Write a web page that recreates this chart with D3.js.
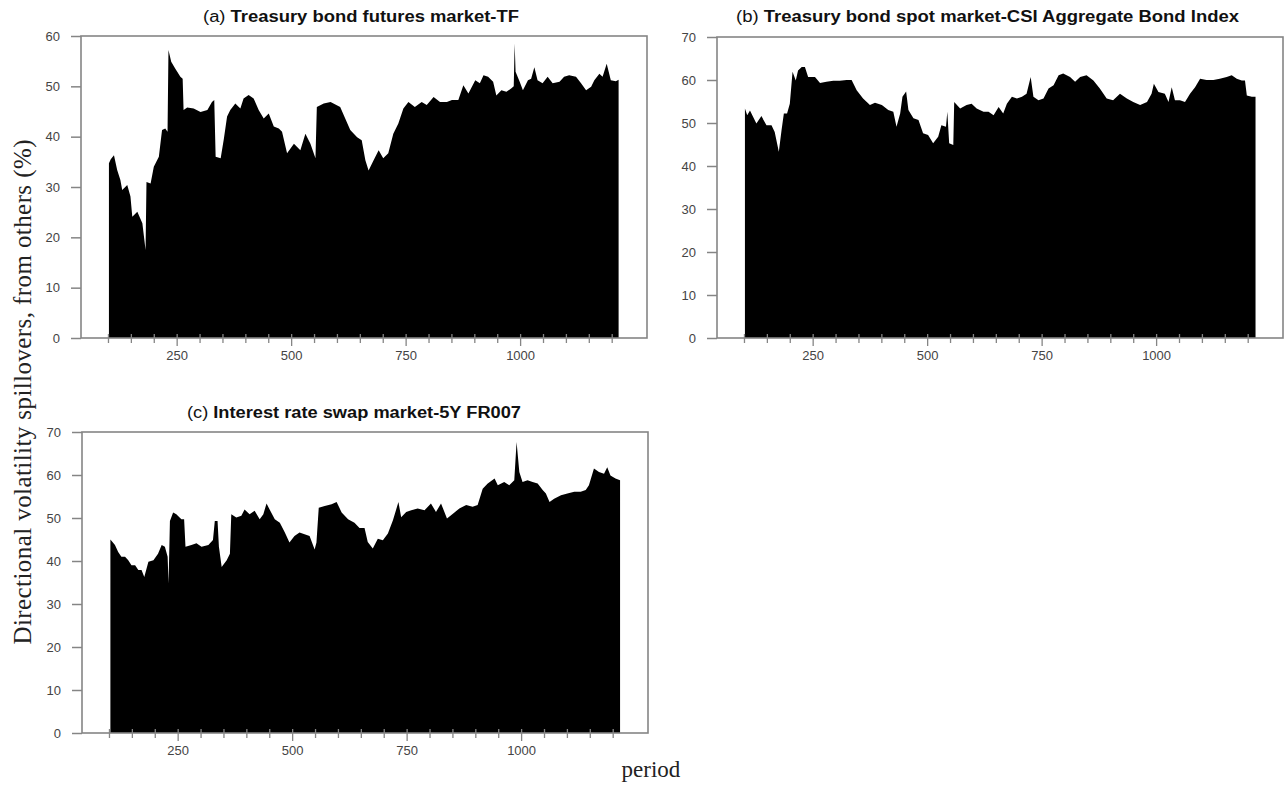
<!DOCTYPE html>
<html><head><meta charset="utf-8">
<script src="https://cdn.jsdelivr.net/npm/d3@7"></script>
<style>body{margin:0;background:#fff}svg{display:block}</style>
</head><body>
<svg id="chart" width="1284" height="788"></svg>
<script>
// ---------- data ----------
const periodTicks = d3.range(100, 1201, 50);
const periodLabels = [250, 500, 750, 1000];
const ticksA = [0, 10, 20, 30, 40, 50, 60];
const ticksBC = [0, 10, 20, 30, 40, 50, 60, 70];

const titleA = ["(a) ", "Treasury bond futures market-TF"];
const titleB = ["(b) ", "Treasury bond spot market-CSI Aggregate Bond Index"];
const titleC = ["(c) ", "Interest rate swap market-5Y FR007"];
const yLabel = "Directional volatility spillovers, from others (%)";
const xLabel = "period";

const aPeriods = [101,105,112,119,126,130,141,148,152,163,174,181,183,192,199,210,217,224,229,231,237,246,257,262,264,272,286,301,316,326,331,334,345,352,359,366,377,388,395,406,417,428,439,450,461,472,479,490,505,519,530,541,552,555,570,585,606,617,628,643,653,661,668,679,690,700,711,722,733,744,755,769,784,795,810,824,839,850,864,875,886,901,911,919,929,940,947,958,969,980,985,987,989,998,1005,1016,1023,1030,1037,1048,1059,1070,1085,1095,1106,1121,1132,1143,1154,1161,1172,1179,1188,1197,1208,1214];
const aValues = [34.7,35.5,36.3,33.4,31.4,29.4,30.4,28.1,24.1,25.1,22.8,17.5,31.0,30.7,34.0,36.0,41.3,41.6,41.0,57.2,54.9,53.5,51.9,51.5,45.3,45.8,45.6,44.9,45.3,46.9,47.3,36.0,35.7,39.6,44.0,45.3,46.6,45.6,47.6,48.3,47.6,45.3,43.6,44.6,42.0,41.6,41.0,36.7,38.6,37.3,40.6,38.6,35.7,45.9,46.6,46.9,45.9,43.6,41.3,39.9,39.3,35.3,33.3,35.3,37.3,35.7,36.7,40.6,42.6,45.6,46.9,45.9,46.9,46.3,47.9,46.9,46.9,47.3,47.3,50.2,48.6,51.2,50.6,52.2,51.9,50.9,48.2,49.2,48.9,49.6,50.0,58.5,52.9,50.9,49.2,51.2,51.5,53.8,51.2,50.6,51.9,50.6,50.9,51.9,52.2,51.9,50.6,49.2,49.9,51.2,52.5,51.9,54.5,51.2,51.0,51.3];

const bPeriods = [101,106,112,119,126,137,148,159,166,175,181,186,193,199,205,212,217,225,232,239,254,265,279,294,308,323,334,345,359,374,385,400,414,425,432,440,445,453,458,469,480,490,501,512,523,530,540,543,547,556,558,571,585,596,607,622,633,644,655,665,673,684,695,706,716,725,731,742,753,764,775,786,796,811,822,833,847,862,876,891,905,920,935,949,964,979,989,994,1004,1018,1026,1033,1040,1051,1062,1073,1084,1095,1109,1124,1138,1153,1164,1175,1186,1193,1197,1208,1216];
const bValues = [53.4,51.8,52.9,51.4,49.9,51.6,49.5,49.5,47.9,43.3,48.4,52.2,52.2,54.5,61.9,59.9,62.2,63.0,63.0,60.7,60.7,59.3,59.6,59.8,59.8,60.0,60.0,57.6,55.7,54.2,54.7,54.2,53.0,52.6,49.1,52.2,56.1,57.3,53.0,51.1,50.7,47.6,47.2,45.3,46.8,49.5,49.1,52.6,45.3,44.9,54.9,53.4,54.2,54.5,53.4,52.6,52.6,51.8,53.7,52.2,54.5,56.1,55.7,56.1,56.8,60.7,56.1,55.3,55.7,58.0,58.8,61.1,61.5,60.7,59.6,60.7,61.1,59.9,58.0,55.7,55.3,56.8,55.7,54.9,54.2,54.9,56.8,59.1,57.2,56.8,54.9,58.3,55.3,55.3,54.9,56.8,58.3,60.3,60.0,60.0,60.3,60.7,61.1,60.3,59.9,59.9,56.4,56.1,56.1];

const cPeriods = [102,112,119,126,134,141,148,156,163,170,176,185,196,206,214,221,227,229,232,239,246,257,263,266,279,290,301,316,326,330,336,339,345,356,363,366,377,388,395,406,417,428,436,443,450,461,472,483,493,504,515,526,537,548,552,557,570,585,596,607,621,635,646,657,664,675,686,697,708,719,731,737,748,759,773,788,802,813,824,837,850,864,879,893,904,915,926,941,948,962,973,984,989,995,1002,1013,1024,1035,1046,1053,1061,1071,1086,1100,1115,1129,1140,1147,1158,1169,1180,1187,1194,1205,1215];
const cValues = [45.0,43.7,42.1,41.0,41.0,40.2,39.0,39.0,37.9,37.9,36.3,39.8,40.2,41.7,43.7,43.3,41.0,34.8,49.3,51.3,50.9,49.7,49.7,43.3,43.7,44.1,43.3,43.7,44.9,49.3,49.3,43.3,38.6,40.2,41.7,50.9,50.1,50.5,52.0,50.9,51.7,49.7,50.9,53.4,51.9,49.7,48.9,46.6,44.3,45.8,46.6,46.2,45.8,42.7,44.3,52.4,52.8,53.2,53.7,51.3,49.7,48.9,47.7,47.7,44.4,42.9,45.2,44.8,46.4,49.5,53.7,50.2,51.4,51.8,52.2,51.8,53.4,51.4,53.4,49.9,51.0,52.2,53.0,52.6,53.0,56.8,58.0,59.2,57.6,58.4,57.6,58.8,67.7,60.7,58.4,58.8,58.4,58.0,56.5,55.7,53.7,54.5,55.3,55.7,56.1,56.1,56.5,57.6,61.5,60.7,60.3,61.8,59.9,59.2,58.8];

// ---------- layout ----------
const svg = d3.select("#chart");
const FRAME = "#858585";
const TXT = "#444";
const xDomain = [40, 1276];

const panels = [
  {title: titleA, periods: aPeriods, values: aValues, yMax: 60, yTicks: ticksA,
   l: 81, r: 647, t: 36, b: 338, tx: 203, tw: 316, ty: 22},
  {title: titleB, periods: bPeriods, values: bValues, yMax: 70, yTicks: ticksBC,
   l: 717, r: 1283, t: 37, b: 338, tx: 736, tw: 503, ty: 22},
  {title: titleC, periods: cPeriods, values: cValues, yMax: 70, yTicks: ticksBC,
   l: 82, r: 648, t: 432, b: 733, tx: 187, tw: 334, ty: 418}
];

panels.forEach(p => {
  const x = d3.scaleLinear().domain(xDomain).range([p.l, p.r]);
  const y = d3.scaleLinear().domain([0, p.yMax]).range([p.b, p.t]);
  const g = svg.append("g");
  const data = p.periods.map((d, i) => ({p: d, v: p.values[i]}));

  const area = d3.area().x(d => x(d.p)).y0(y(0)).y1(d => y(d.v)).curve(d3.curveLinear);
  g.append("path").datum(data).attr("d", area).attr("fill", "#000");

  // frame
  g.append("rect").attr("x", p.l).attr("y", p.t).attr("width", p.r - p.l).attr("height", p.b - p.t)
    .attr("fill", "none").attr("stroke", FRAME).attr("stroke-width", 1.6);

  // x ticks
  const xt = g.append("g");
  periodTicks.forEach(v => {
    const major = periodLabels.includes(v);
    xt.append("line").attr("x1", x(v)).attr("x2", x(v))
      .attr("y1", p.b - 4).attr("y2", p.b + (major ? 8 : 5))
      .attr("stroke", FRAME).attr("stroke-width", 1.3);
  });
  periodLabels.forEach(v => {
    xt.append("text").attr("x", x(v)).attr("y", p.b + 22).attr("text-anchor", "middle")
      .attr("font-family", "Arial, 'Liberation Sans', sans-serif").attr("font-size", 13)
      .attr("fill", TXT).text(v);
  });

  // y ticks
  const yAxis = d3.axisLeft(y).tickValues(p.yTicks).tickSize(10).tickPadding(11);
  const ya = g.append("g").attr("transform", `translate(${p.l},0)`).call(yAxis);
  ya.select(".domain").remove();
  ya.selectAll(".tick line").attr("stroke", FRAME).attr("stroke-width", 1.5);
  ya.selectAll(".tick text").attr("font-family", "Arial, 'Liberation Sans', sans-serif")
    .attr("font-size", 13).attr("fill", TXT);

  // title
  const tt = g.append("text").attr("x", p.tx).attr("y", p.ty)
    .attr("font-family", "Arial, 'Liberation Sans', sans-serif").attr("font-size", 16)
    .attr("fill", "#111").attr("textLength", p.tw).attr("lengthAdjust", "spacingAndGlyphs");
  tt.append("tspan").attr("font-weight", "normal").text(p.title[0]);
  tt.append("tspan").attr("font-weight", "bold").text(p.title[1]);
});

// axis titles
svg.append("text").attr("transform", "translate(31,392) rotate(-90)")
  .attr("text-anchor", "middle").attr("font-family", "'Liberation Serif', 'Times New Roman', serif")
  .attr("font-size", 25).attr("fill", "#222").attr("textLength", 505).attr("lengthAdjust", "spacing")
  .text(yLabel);
svg.append("text").attr("x", 651).attr("y", 777).attr("text-anchor", "middle")
  .attr("font-family", "'Liberation Serif', 'Times New Roman', serif")
  .attr("font-size", 23).attr("fill", "#222").text(xLabel);
</script>
</body></html>
